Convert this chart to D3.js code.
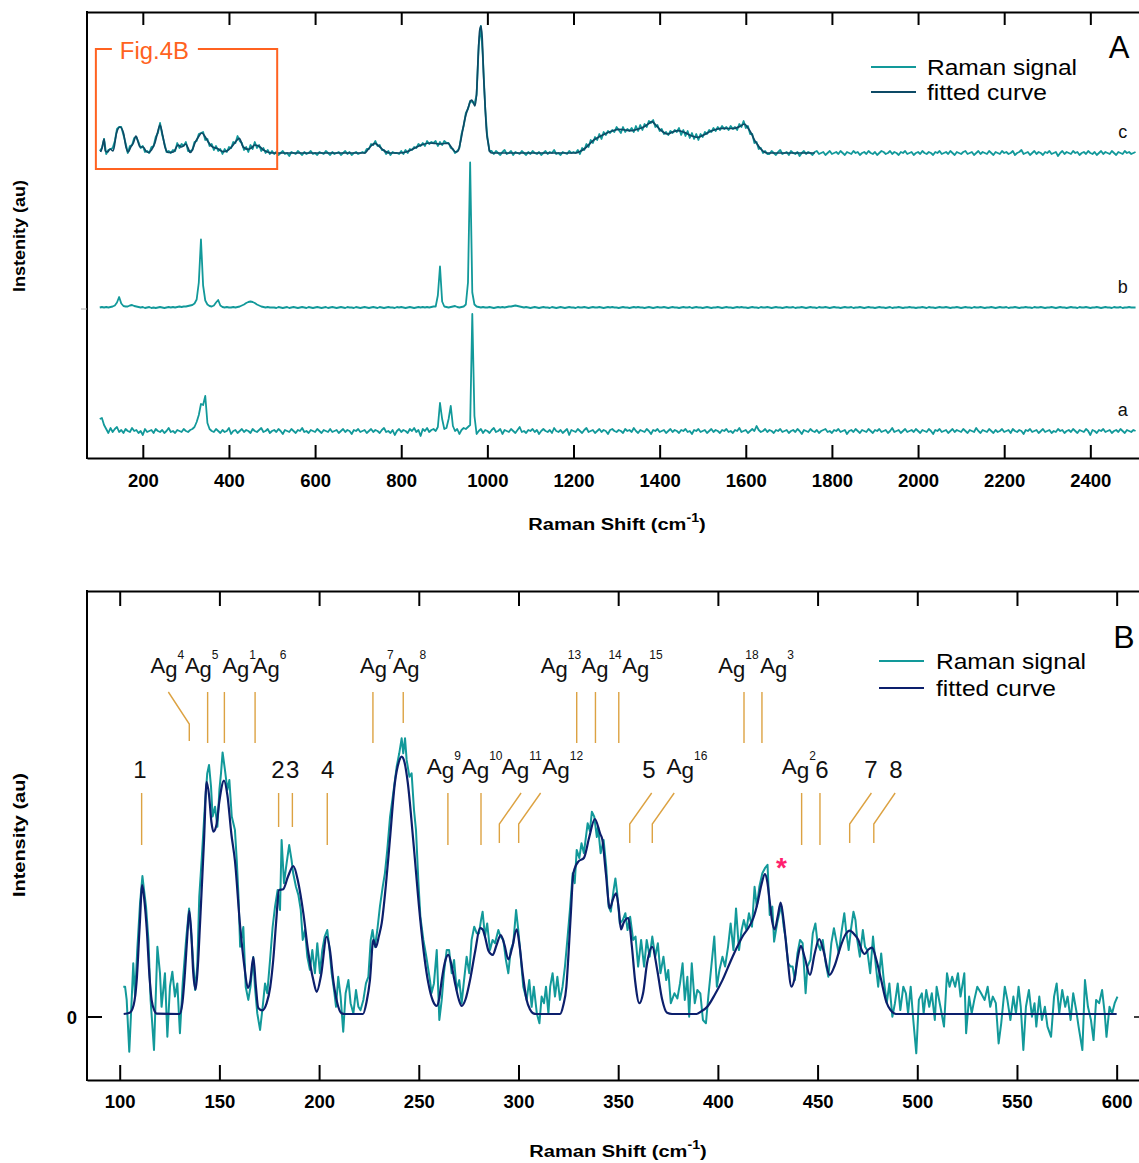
<!DOCTYPE html>
<html><head><meta charset="utf-8">
<script src="https://cdn.jsdelivr.net/npm/d3@7"></script>
<style>body{margin:0;background:#fff}svg{display:block}</style>
</head><body><svg id="chart" width="1139" height="1163"></svg>
<script>
// ---------------- DATA ----------------
const shiftTicksA = [200,400,600,800,1000,1200,1400,1600,1800,2000,2200,2400];
const shiftTicksB = [100,150,200,250,300,350,400,450,500,550,600];
const gridStep = 5; // spectrometer channel spacing used for panel A traces (cm-1)
const traceLabels = ["a","b","c"];
const traceOffsets = [27, 150.5, 305]; // stacking offsets (intensity units)

// trace a (segments: [start shift, values every gridStep])
const traceA = [
 [100,[12,13,6,2,-2,3,-1,2,4,-1, 1,-2,2,0,-1,3,0,1,-2,0, -4,2,-1,0,1,-2,2,0,-1,1, -2,0,3,-1,0,-2,1,0,-1,2,
  0,-1,1,2,4,9,16,27,26,35, 8,2,0,-1,2,0,-2,1,-1,0, 3,-3,0,1,-2,0,2,-1,1,0, -2,2,0,-1,1,3,-1,0,2,-2,
  0,1,-1,2,0,-3,1,0,-1,2, 0,-2,1,0,3,-1,0,-2,1,0, -1,2,0,-2,1,0,-1,2,-1,0, 1,-2,0,2,-1,1,0,-3,1,0,
  2,-1,0,1,-2,0,2,-1,1,0, -2,1,3,-1,0,-2,1,-4,0,2, -1,1,0,-2,2,0,3,-1,1,-5, 2,0,3,-1,1,2,0,4,28,12,
  2,3,12,25,5,0,2,-3,1,3, 2,4,6,117,15,-3,0,2,-2,1]],
 [1000,[0,-2,1,3,-1,0,2,-3,1,0, -1,2,0,-2,1,4,-1,0,-2,1, 0,2,-1,1,-3,0,2,0,-1,1, -2,3,0,-1,1,-2,0,2,-4,1,
  0,-1,2,0,-2,1,3,-1,0,1, -2,0,2,-1,1,0,-3,1,2,0, -1,1,0,-2,2,0,1,-1,3,0, -2,1,0,-1,2,0,-3,1,0,2,
  -1,0,1,-2,0,2,-1,1,0,-2, 1,0,2,-1,0,-3,1,0,2,-1, 0,1,-2,0,2,-1,1,0,-2,1, 0,2,-1,0,-2,1,0,3,-1,0,
  1,-2,0,2,0,5,1,-1,0,2, -1,1,0,-2,1,0,2,-1,0,1, -2,0,1,-1,2,0,-3,1,0,-1, 2,0,-1,1,-2,0,1,2,-1,0,
  -2,1,0,2,-1,0,1,-3,0,1, -1,2,0,-2,1,0,-1,2,0,-2, 1,0,2,-1,0,1,-2,0,3,-1, 0,1,-2,0,2,-1,0,1,-1,2,
  0,-2,1,0,-1,2,0,-3,1,0, 2,-1,0,1,-2,0,2,-1,1,0, -1,2,0,-2,1,0,-1,3,0,-2, 1,0,-1,2,0,-2,1,-1,0,2,
  -1,0,1,-2,2,0,-1,1,0,-3, 1,0,2,-1,0,1,-2,0,2,-1, 0,1,-2,0,-1,2,0,1,-2,0, 1,-1,2,0,-2,1,0,-1,2,0,
  -4,1,0,-2,1,0,2,-1,0,1, -2,0,1,-1,2,0,-2,1,0,-1, 1,0]]
];
// trace b
const traceB = [
 [100,[0,0.5,0,0.5,0,0.5,1,2,5,10.5, 4,1.5,1,1,2,2.5,1.5,1,0.5,0, 0.5,-0.5,0,0.5,-0.5,0,-0.5,0,0.5,0,
  -0.5,0,0.5,0,0.5,0,0.5,1,0.5,1, 1,1.5,2,2.5,4,8,25,68,22,7, 3,1.5,1,2,5,7.5,2,0.5,0,0.5,
  0,0,0.5,0,0.5,1,2,3,4.5,5.5, 6,5.5,4.5,3,2,1,0.5,0,0.5,0, 0]],
 [505,[0,-0.5,0.5,0,-0.5,0,0.5,-0.5,0,0.5, 0,-0.5,0,0.5,0,-0.5,0.5,0,-0.5,0, 0.5,0,-0.5,0,0.5,-0.5,0,0.5,0,-0.5,
  0,0.5,0,-0.5,0.5,0,0,-0.5,0.5,0, -0.5,0,0.5,0,-0.5,0,0.5,0,-0.5,0.5, 0,-0.5,0,0.5,0,0,-0.5,0.5,0,0.5,
  0,-0.5,0,0.5,0,-0.5,0,0.5,0,0.5, 0,0.5,0,0.5,1]],
 [880,[1,12,41,6,1,0.5,0,0.5,1,1.5, 0.5,0,0.5,1,3,25,145,15,3,1, 0.5,0,0.5,0,0]],
 [1005,[0.5,0,-0.5,0,0.5,0,0.5,0,0.5,1, 1,1.5,2,1.5,1,0.5,0,0.5,0,-0.5, 0,0.5,0,-0.5,0,0.5,0,0,-0.5,0.5,
  0,-0.5,0,0.5,0,-0.5,0,0.5,0,0, -0.5,0.5,0,0,0.5,0,-0.5,0,0.5,0, 0,0.5,0,-0.5,0,0.5,0,0.5,0,0,
  -0.5,0,0.5,0,0,-0.5,0,0.5,0,0.5, 0,0,-0.5,0,0.5,0,-0.5,0,0.5,0, 0,0.5,0,-0.5,0,0.5,0,0,-0.5,0,
  0.5,0,0,0.5,-0.5,0,0.5,0,0,-0.5, 0,0.5,0,-0.5,0,0,0.5,0,-0.5,0, 0.5,0,0,-0.5,0,0.5,0,0.5,0,0,
  -0.5,0,0.5,0,0,-0.5,0.5,0,0,0.5, 0,-0.5,0,0.5,0,0,-0.5,0,0.5,0, 0,0.5,-0.5,0,0,0.5,0,-0.5,0,0.5,
  0,0,-0.5,0.5,0,0,0.5,0,-0.5,0, 0.5,0,0,-0.5,0,0.5,0,0,0.5,-0.5, 0,0,0.5,0,-0.5,0,0.5,0,0,-0.5,
  0,0.5,0,0,-0.5,0,0.5,-0.5,0,0, 0.5,0,-0.5,0,0,0.5,0,0,-0.5,0, 0,0.5,0,-0.5,0.5,0,0,-0.5,0,0.5,
  0,0,0.5,0,-0.5,0,0,0.5,0,-0.5, 0,0.5,0,0,-0.5,0.5,0,0,0.5,0, -0.5,0,0,0.5,0,-0.5,0,0.5,0,0,
  0.5,-0.5,0,0,0.5,0,-0.5,0,0,0.5, 0,0,-0.5,0.5,0,0,0.5,0,-0.5,0, 0,0.5,0,-0.5,0,0.5,0,0,-0.5,0,
  0.5,0,0,-0.5,0.5,0,0,0.5,0,-0.5, 0,0,0.5,0,-0.5,0,0.5,0,0,-0.5, 0.5,0,0,0.5,-0.5,0,0,0.5,0,0, 0]]
];
// trace c (Raman signal)
const traceC = [
 [100,[2,5,14,-1,3,4,5,12,24,26, 26,18,10,0,7,8,15,16,11,5, 7,1,2,0,6,7,16,20,30,18, 10,1,2,0,3,2,10,5,9,7,
  11,2,2,3,11,12,19,20,21,13, 14,7,9,3,7,2,4,-1,4,1, 6,5,11,10,17,12,10,3,6,1, 8,4,11,5,8,2,5,0,3,-1, 2]],
 [505,[-1,1,-2,0,2,-1,0,-3,1,0, -1,2,0,-2,1,-1,0,2,-1,0, -2,1,0,-1,2,0,-2,1,-1,0, 1,-2,0,2,-1,1,-2,0,1,-1, 0,1,0]],
 [720,[4,4,9,8,12,7,8,3,3,-1, 2,-2,1,0,0,-1,2,-1,3,0, 4,3,6,5,9,7,10,7,12,9, 11,10,12,7,11,8,12,10,10,5,
  4,0,2,5,19,27,40,44,52,51, 49,58,108,127,92,44,16,2,2]],
 [1015,[-1,2,0,-2,1,3,-1,0,2,-2, 1,0,-1,2,0,-2,1,-1,2,0, -1,1,-2,0,2,-1,1,0,3,-1, 0,-2,1,0,-1,2,0,1,0]],
 [1210,[3,-1,5,3,9,6,13,10,16,13, 19,14,21,18,22,20,23,21,26,23, 20,26,21,24,22,25,21,27,22,28, 23,29,26,32,30,33,26,28,22,24,
  19,21,18,22,20,23,21,25,18,23, 17,22,15,20,14,19,13,19,16,21, 19,23,21,25,22,26,23,27,24,26, 23,27,24,26,23,29,26,32,25,27,
  19,19,10,11,4,5,0,2,-1]],
 [1655,[-1,2,0,-2,1,3,-1,0,1,-2, 2,0,-1,1,-3,0,2,-1,1,0, -2,1,2,-1,0,1,-2,0,2,-1, 0,1,-1,2,0,-2,1,0,-1,2,
  0,1,-2,0,1,-1,2,0,-1,1, -2,0,2,1,-1,0,2,-1,1,0, -2,1,0,2,-1,0,1,-2,0,1, -1,2,0,-1,1,0,-2,1,0,2,
  -1,0,1,-1,2,0,-2,1,0,-1, 1,2,-1,0,1,-2,0,2,-1,1, 0,-1,2,0,-2,1,0,-1,2,0, 1,-1,0,2,-2,0,1,3,-1,0,
  1,-2,0,2,-1,1,0,-2,1,0, 2,-1,0,1,-3,0,2,-1,1,0, -1,2,0,1,-2,0,1,-1,2,0, -1,1,-2,0,2,-1,1,0,-1,2,
  0,-2,1,0,-1,2,0,1,-1,0, 1]]
];
// trace c fitted curve [shift, intensity]
const fitC = [[102,1],[106,6],[110,14],[113,2],[118,1],[124,4],[131,2],[139,20],[147,26],[155,20],[161,6],[166,1],[172,6],[178,10],[184,17],[189,11],[193.5,6],[201,6],[207,2],[213,0.5],[220,3],[228,10],[234,20],[240,28],[246,18],[251.5,6],[259,0.5],[271,1],[282,8],[290,6],[300,9],[305,5],[310,0.5],[315,3],[321,10],[329,16],[337,20],[345,16],[352,11],[362,6],[372,4.7],[387,1.3],[397,2.5],[406,6],[415,11],[424,14.7],[433,6],[445,3.7],[452,5],[460,8],[466,7.5],[472,6],[480,3],[488,1.3],[500,0],[715,0],[722,3],[730,7],[739,9.7],[748,7],[758,3],[773,0],[795,0],[813,1.3],[825,3.5],[836,6],[850,8.5],[867,10],[880,9.5],[890,9],[900,9.5],[909,9.7],[916,6],[921,3],[927,1],[932,2],[938,12],[944,26],[950,38],[956,46],[961,52],[964,53],[968,50],[971,47],[975,60],[979,100],[982,122],[985,127],[988,115],[991,80],[994.5,50],[998,22],[1002,9.7],[1005,2],[1010,0],[1205,0],[1215,1.5],[1227,4.7],[1247,13],[1261,16.5],[1276,19.7],[1290,22],[1305,23.7],[1320,23],[1335,22.3],[1350,24],[1364,26.3],[1375,29.5],[1382,31.3],[1390,28.5],[1398,24.7],[1408,21],[1418,19],[1430,21],[1442,22.3],[1452,21.5],[1462,19.7],[1475,17],[1489,15.7],[1502,18],[1516,21.3],[1530,23.5],[1545,24.7],[1560,24.5],[1574,24.7],[1586,26.5],[1597,29],[1605,25],[1613,19.7],[1620,13],[1628,8],[1635,4],[1642,1.3],[1650,0],[1760,0]];
const fig4bRange = [91, 512];     // shift range covered by Fig.4B box
const fig4bLevels = [289, 409];   // intensity range of box

// Panel B: Raman signal [shift, intensity]
const signalB = [[101.8,10.1],[102.7,10.1],[103.5,5.7],[104.8,-11.6],[106,5.7],[106.8,17.9],[107.7,6.8],[108.8,22.3],[110.2,37.9],[111.4,47],[112.2,42.3],[113.2,36.8],[114.4,25.7],[115.5,5.7],[117.2,-11],[118.9,23.4],[120.2,14.6],[121,3.4],[122.7,14.6],[123.9,-6.6],[125.2,10.1],[126.4,15.1],[127.7,6.8],[128.9,11.2],[130.2,-5.4],[131.6,11.2],[133.3,25.7],[134.8,36.2],[136.1,25.7],[137.8,9],[138.9,16.8],[139.9,40.1],[141.1,52.3],[142.8,71.2],[143.9,81.2],[144.8,84],[145.8,76.8],[146.6,66.8],[147.8,70.1],[149,63.4],[150,75.7],[150.8,81.2],[151.6,88.2],[152.8,82.3],[154,75.7],[155,79],[156.2,66.8],[157.8,62.3],[158.7,52.3],[159.6,40],[160.4,23.4],[162,30],[163.2,10],[164.5,5.7],[165.6,10.1],[167,20],[167.8,10.1],[169,1.2],[170.4,-4.3],[171.7,3.4],[172.9,11.2],[174,7.9],[175.4,19],[176.7,30],[177.9,36.8],[179.2,42.3],[180.4,35.7],[181.2,59],[182.4,44.6],[183.7,51.2],[185,57.3],[186.2,52.3],[187,47.9],[188.4,43.4],[189.6,40.7],[190.8,35.7],[191.8,25.7],[192.9,29],[194.1,20.1],[195.4,15.7],[196.6,22.3],[197.9,14.6],[199.1,24.6],[200.4,14.6],[201.6,22.3],[202.8,26.8],[204.1,29],[205.1,23.4],[206.3,14.6],[207.5,9],[208.5,3.4],[209.6,13.4],[210.8,6.8],[212.1,-4.9],[213.3,7.9],[214.7,12.3],[215.8,4.6],[217.2,1.2],[218.5,9],[219.7,3.4],[220.8,2.3],[222.2,5.7],[223.5,11.2],[224.7,13.4],[225.9,25.7],[226.8,29],[228,23.4],[229.2,29],[230.5,36.8],[231.9,43.4],[233,47.9],[234.2,55.7],[235.6,66.8],[237.2,74.6],[238.9,83.4],[240.2,87.9],[241.4,92.9],[242.2,87.9],[243.1,92.9],[243.9,85.7],[245.3,80.1],[246.4,81.2],[247.6,69],[248.6,62.3],[249.8,45],[250.8,33.4],[252.3,25.7],[253.8,20],[255.6,12.3],[256.4,8],[257.6,11.2],[259,22.3],[260.3,-1],[261.5,5.7],[262.6,14.6],[264,22.3],[265.2,22.3],[266.5,14.6],[267.7,19],[269,9],[270.3,12.3],[271.5,4.6],[272.7,12.3],[274,20.1],[275.3,14.6],[276.5,25.7],[277.8,30.1],[279.1,27.9],[280.2,27.9],[281.2,32.3],[282,35.1],[283.2,26.8],[284.3,31.2],[285.7,22.3],[287,25.7],[288.2,24.6],[289.9,29],[291,26.8],[292.4,25.7],[293.7,19],[294.9,14.6],[296.1,22.3],[297.4,24.6],[298.8,35.7],[299.9,29],[301.1,20.1],[302.4,10.1],[304.1,5.7],[305.4,12.3],[306.6,3.4],[307.7,10.1],[309.2,1.2],[310.5,-2.1],[311.6,6.8],[312.8,4.6],[313.8,10.1],[315,1.2],[315.9,10.1],[317.1,14.6],[318.3,6.8],[319.5,13.4],[320.8,5.7],[322.1,10.1],[323.3,16.8],[324.5,25.7],[325.8,35.7],[327.2,47.9],[328.2,44.6],[329.2,55.7],[330.5,53],[331.6,57.9],[332.8,54.6],[334.7,64.6],[335.8,62],[336.8,68.4],[338,66.8],[339.3,60],[339.9,63.4],[341.2,54.6],[342.7,59],[344,50],[345.2,36.8],[346.3,35.1],[347.7,42.3],[348.6,46.2],[349.5,41.2],[350.8,31.2],[352.3,32.3],[353.6,34.6],[354.7,29],[356,33.4],[357.5,25.7],[358.7,26.8],[360,16.8],[361.5,25.7],[363,16.8],[364.3,25.7],[365.8,20.1],[367.1,26.8],[368.6,20.1],[369.9,24.6],[371.2,14.6],[372.7,20.1],[374.1,12.3],[375.1,15.7],[376.4,4.6],[378.2,7.9],[379.7,6.2],[381,11.2],[382.3,17.9],[383.4,5.7],[384.7,13.4],[385.6,0.1],[386.9,17.9],[388.4,4.6],[389.7,9],[391.2,7.9],[392.5,-1],[394,-2.1],[395.2,6.8],[396.7,16.8],[398.2,26.8],[399.5,10.1],[400.8,15.7],[402.3,20.1],[403.6,16.8],[405.1,23.4],[406.4,31.2],[407.8,22.3],[409.1,36.2],[410.6,22.3],[411.9,29],[413,32.3],[414.3,29],[415.6,34.6],[417.1,30.1],[418.4,43.4],[419.5,36.8],[420.8,43.4],[422.3,47.9],[423.6,49.6],[424.9,50.7],[426,34],[427.3,36.8],[428.2,25.1],[429.7,31.2],[431,35.1],[431.9,36.8],[433,30.1],[434.1,25.7],[435.2,17.9],[436.5,16.8],[437.5,16.8],[438.6,12.3],[439.9,21.2],[441.2,25.7],[442.5,24.6],[444,7.9],[444.9,16.8],[446.4,19],[447.6,27.9],[448.9,31.2],[450,24.6],[451.4,22.3],[452.6,25.7],[454.1,17.9],[455.4,13.4],[456.9,24.6],[458.2,29.6],[459.3,25.7],[460.6,21.2],[461.9,27.9],[463.4,34.6],[464.3,29],[465.6,22.3],[466.7,29],[468,35.1],[469,32.3],[469.9,25.7],[471.2,20.1],[472.7,29],[473.8,23.4],[474.9,22.3],[476.4,14.6],[477.8,26.8],[479.1,17.9],[480.4,10.1],[481.9,21.2],[483.2,12.3],[484.7,4.6],[486,11.2],[487.5,0.1],[488.8,4.6],[490.2,11.2],[491.5,2.3],[493,10.1],[494.3,7.9],[495.4,1.2],[496.7,10.1],[498,-1],[499.5,-12.1],[500.8,5.7],[502.3,7.9],[503.2,1.2],[504.5,9],[506,3.4],[507.3,7.9],[508.8,-1],[509.7,10.1],[511.6,3.4],[513.4,-3.2],[514.9,14.6],[516.2,10.1],[517.5,13.4],[519,10.1],[520.4,14.6],[521.7,6.8],[523.6,14.6],[524.5,-5.4],[526,6.8],[527.3,1.2],[528.6,5.7],[530.1,10.1],[532,7.9],[533.8,5.7],[535.3,10.1],[536.6,3.4],[537.9,6.8],[539.4,4.6],[540.8,-8.8],[542.1,-2.1],[543.9,10.1],[545.2,5.7],[546.7,-1],[548.2,6.8],[549.5,1.2],[550.8,10.1],[551.9,3.4],[553.2,-11],[554.5,3.4],[556,9],[557.5,0.1],[558.8,4.6],[559.7,-3.2],[561.2,6.8],[562.5,-1],[564,3.4],[565.3,-3.2],[567.1,-6.6],[568.6,6.8],[569.9,11.2],[571.2,1.2],[572.7,9],[574.2,3.4],[575.4,6.8],[576.9,-1],[578.2,7.9],[579.7,2.3],[580.9,-3.2],[582.8,-11],[584.1,12.3],[585.6,3.4],[587.1,-1],[588.4,-7.7],[589.7,5.7],[591.2,4.6],[592.7,9],[594,1.2],[594.9,-6.6],[596.4,3.4],[597.7,1.2],[599,4.6],[600.4,6.8]];
// Panel B fitted curve [shift, intensity]
const fitB = [[102,1],[105,1.4],[107,4],[108.5,12],[110,30],[111.3,44],[112.5,38],[113.5,30],[115,13],[116,5.7],[117.5,2],[118.5,1.1],[130,1],[131.5,5],[132.7,14.6],[134,28],[134.9,35.4],[135.9,28],[136.9,14.6],[138.1,9.2],[139.2,17],[140.3,31.3],[141.3,45],[142.3,59],[143.6,78.4],[144.8,74],[146,65],[147,61.8],[148.5,64],[150,72],[152.3,78.8],[154,74],[156,61],[157.8,52],[160.3,31],[162.5,17],[164.3,9.7],[165.5,12],[167,20],[168.2,11],[169.5,3],[171.5,2.2],[173.7,4.6],[175.5,10],[177,19],[178.5,32],[179.9,42.3],[182,42.6],[184.5,47],[187.1,50.3],[189.5,45],[192.1,34.6],[194.5,22],[197.1,12.3],[198.8,8.4],[201,14],[203.8,26.8],[205.5,22],[207.1,12.3],[209,5],[211.3,1.2],[213,1],[222,1],[223.8,5],[225.5,12.3],[227.2,25.7],[228.5,23.3],[230,27],[231.4,31.3],[233.5,44],[235.5,59],[238,78],[240,85],[241.4,86.8],[242.8,85],[244.5,78],[247.2,59],[250.6,33.4],[252.8,20],[254.8,11.2],[257,5.5],[259,3.7],[260.2,6],[261.5,12.3],[263,18],[264.8,20.7],[266.5,17],[268.2,11.2],[270,6],[271.5,3.7],[273.5,6],[275.7,12.3],[278.3,22],[280.7,29.6],[282,29.2],[283.2,26.8],[285,22],[287.1,20.7],[289,24],[291.1,27.3],[293,24],[294.9,19.2],[296.8,23],[299.1,29.2],[300.5,24],[302.2,14],[304.1,5.7],[305.8,2.5],[307.4,1.2],[309,1],[320.8,1],[322.5,4],[324,10],[325,20],[326.3,35],[327.5,47.9],[330,51.8],[332.8,53],[335.5,60],[338.3,66],[341,61],[342.1,59],[343.8,48],[345.8,36.2],[347.5,39.5],[349,41.2],[350.3,36],[351.4,29.2],[352.8,31.5],[355.1,33],[356.8,24],[358.5,12],[360.6,4.6],[362.5,8],[364.5,18],[367.1,23.4],[369.5,16],[372,6],[374.5,1.4],[377,1],[389.3,1],[391.5,1.8],[394.9,3.6],[398.5,7.5],[402.3,12.3],[406,18],[409.7,23.4],[412.5,27],[415.2,29.6],[417.8,33],[419.9,38],[421.8,44],[423.6,47.6],[424.8,45],[425.9,39.1],[427.2,32],[428.5,29.2],[430,33.5],[431.5,38.1],[433,32],[434.7,21.2],[436.9,10.1],[438.5,13],[440,19.5],[441.6,23.7],[443.5,20],[446.2,14],[448.5,21],[450.8,26],[453,22],[456,14],[458.5,17],[461.5,23.4],[464,27.5],[466.2,28.8],[468.5,27.5],[470.5,25.6],[472,22.5],[473.6,21],[475.5,22.5],[477.3,23.1],[479.5,19],[481.9,12.3],[484.5,5],[486.6,2.3],[488.5,1.2],[490,1],[600,1]];
// Mode assignments: superscript / number, band shift, label anchor shift, leader start shift
const modesTop = [
 {sup:"4", at:115.5, band:134.9, from:124.4},
 {sup:"5", at:132.7, band:144.1},
 {sup:"1", at:151.5, band:152.5},
 {sup:"6", at:166.7, band:167.9},
 {sup:"7", at:220.5, band:227.0},
 {sup:"8", at:236.9, band:242.2, short:true},
 {sup:"13", at:311.2, band:329.2},
 {sup:"14", at:331.6, band:338.6},
 {sup:"15", at:352.1, band:350.3},
 {sup:"18", at:400.2, band:413.1},
 {sup:"3", at:421.3, band:422.1}
];
const modesBottom = [
 {num:"1", at:110.2, band:111.0},
 {num:"2", at:179.4, band:179.7, short:true},
 {num:"3", at:186.7, band:186.6, short:true},
 {num:"4", at:204.3, band:204.1},
 {sup:"9", at:254.0, band:264.6},
 {sup:"10", at:271.5, band:281.2},
 {sup:"11", at:291.6, band:290.4, from:301.3},
 {sup:"12", at:311.9, band:300.1, from:311.1},
 {num:"5", at:365.4, band:355.8, from:366.8},
 {sup:"16", at:374.2, band:367.1, from:378.1},
 {sup:"2", at:432.0, band:442.0},
 {num:"6", at:452.2, band:451.2},
 {num:"7", at:476.8, band:466.1, from:477.0},
 {num:"8", at:489.3, band:478.2, from:488.9}
];
const starMark = [431.9, 52];

// ---------------- DRAW ----------------
const FONT = "'Liberation Sans', Arial, Helvetica, sans-serif";
const teal = "#12999a", fitAColor = "#0d4a66", fitBColor = "#0c1f6c", orange = "#ff6220", gold = "#d8982e";
const svg = d3.select("#chart").style("font-family", FONT);

function expand(segs){ const out=[]; segs.forEach(([s,vals])=>vals.forEach((v,i)=>out.push([s+i*gridStep,v]))); return out; }

// ===== Panel A =====
const xA = d3.scaleLinear().domain([70.4, 2513]).range([87, 1139]);
const yA = d3.scaleLinear().domain([0, 446]).range([458, 12]);
const gA = svg.append("g");
const lineA = d3.line().x(d=>xA(d[0])).y(d=>yA(d[1]));
[traceA, traceB, traceC].forEach((segs,k)=>{
  const pts = expand(segs).map(([s,h])=>[s, traceOffsets[k]+h]);
  gA.append("path").attr("d", lineA(pts)).attr("fill","none").attr("stroke",teal)
    .attr("stroke-width",1.8).attr("stroke-linejoin","round");
});
gA.append("path").attr("d", lineA.curve(d3.curveMonotoneX)(fitC.map(([s,h])=>[s,traceOffsets[2]+h])))
  .attr("fill","none").attr("stroke",fitAColor).attr("stroke-width",1.7);
traceLabels.forEach((t,k)=>{
  gA.append("text").attr("x", xA(2475)).attr("y", yA(traceOffsets[k]) - 15)
    .attr("text-anchor","middle").attr("font-size",18).attr("fill","#111").text(t);
});
{
  const bx0 = xA(fig4bRange[0]), bx1 = xA(fig4bRange[1]), by0 = yA(fig4bLevels[1]), by1 = yA(fig4bLevels[0]);
  gA.append("path").attr("d",`M${bx0+16},${by0}H${bx0}V${by1}H${bx1}V${by0}H${bx0+102}`)
    .attr("fill","none").attr("stroke",orange).attr("stroke-width",2);
  gA.append("text").attr("x", bx0+24).attr("y", by0+10).attr("font-size",23).attr("fill",orange)
    .attr("textLength",69).attr("lengthAdjust","spacingAndGlyphs").text("Fig.4B");
}
function styleAxis(g, fs){
  g.select(".domain").attr("stroke","#000").attr("stroke-width",2);
  g.selectAll(".tick line").attr("stroke","#000").attr("stroke-width",2);
  g.selectAll(".tick text").attr("font-family",FONT).attr("font-weight","bold").attr("font-size",fs).attr("fill","#000");
  g.attr("font-family",null).attr("font-size",null);
}
const axAB = svg.append("g").attr("transform","translate(0,458)")
  .call(d3.axisBottom(xA).tickValues(shiftTicksA).tickFormat(d3.format("d")).tickSize(-13).tickSizeOuter(0).tickPadding(16));
styleAxis(axAB, 18.5);
const axAT = svg.append("g").attr("transform","translate(0,12)")
  .call(d3.axisTop(xA).tickValues(shiftTicksA).tickFormat("").tickSize(-13).tickSizeOuter(0));
styleAxis(axAT, 18);
svg.append("line").attr("x1",87).attr("x2",87).attr("y1",11).attr("y2",459).attr("stroke","#000").attr("stroke-width",2);
svg.append("line").attr("x1",81).attr("x2",87).attr("y1",yA(traceOffsets[1])+1.5).attr("y2",yA(traceOffsets[1])+1.5).attr("stroke","#aaa").attr("stroke-width",1);
{
  const t = svg.append("text").attr("transform","translate(617,530) scale(1.18,1)").attr("text-anchor","middle")
    .attr("font-weight","bold").attr("font-size",17);
  t.append("tspan").text("Raman Shift (cm");
  t.append("tspan").attr("font-size",12).attr("dy",-8).text("-1");
  t.append("tspan").attr("dy",8).text(")");
}
svg.append("text").attr("transform","translate(25,236) rotate(-90)").attr("text-anchor","middle")
  .attr("font-weight","bold").attr("font-size",16.5).attr("textLength",112).attr("lengthAdjust","spacingAndGlyphs").text("Instenity (au)");
svg.append("text").attr("x",1119).attr("y",58).attr("text-anchor","middle").attr("font-size",31).text("A");
[["Raman signal",teal,67,75,150],["fitted curve",fitAColor,92,100,120]].forEach(([t,c,ly,ty,len])=>{
  svg.append("line").attr("x1",871).attr("x2",916).attr("y1",ly).attr("y2",ly).attr("stroke",c).attr("stroke-width",2);
  svg.append("text").attr("x",927).attr("y",ty).attr("font-size",22).attr("textLength",len).attr("lengthAdjust","spacingAndGlyphs").text(t);
});

// ===== Panel B =====
const xB = d3.scaleLinear().domain([83.6, 611.2]).range([87, 1139]);
const yB = d3.scaleLinear().domain([-21, 142]).range([1080, 591]);
const gB = svg.append("g");
const annTop = {y0:692, y1:743, yShort:723, yKink:724, base:673};
const annBot = {y0:793, y1:845, yShort:827, yKink:824, base:774};
function leader(d, L){
  const xb = xB(d.band);
  let p;
  if (d.from !== undefined) p = `M${xB(d.from)},${L.y0}L${xb},${L.yKink}V${L.y1-2}`;
  else p = `M${xb},${L.y0}V${d.short ? L.yShort : L.y1}`;
  gB.append("path").attr("d",p).attr("fill","none").attr("stroke",gold).attr("stroke-width",1.4).attr("opacity",0.9);
}
function modeLabel(d, L, fs){
  if (d.sup !== undefined){
    const t = gB.append("text").attr("x", xB(d.at)).attr("y", L.base).attr("font-size",fs).attr("fill","#111");
    t.append("tspan").text("A");
    t.append("tspan").attr("dy",4).text("g");
    t.append("tspan").attr("dy",-18).attr("font-size",12).text(d.sup);
  } else {
    gB.append("text").attr("x", xB(d.at)).attr("y", L.base+4).attr("text-anchor","middle").attr("font-size",24).attr("fill","#111").text(d.num);
  }
}
modesTop.forEach(d=>{ leader(d, annTop); modeLabel(d, annTop, 22); });
modesBottom.forEach(d=>{ leader(d, annBot); modeLabel(d, annBot, 22.5); });

const lineB = d3.line().x(d=>xB(d[0])).y(d=>yB(d[1]));
gB.append("path").attr("d", lineB(signalB)).attr("fill","none").attr("stroke",teal).attr("stroke-width",2).attr("stroke-linejoin","round");
gB.append("path").attr("d", lineB.curve(d3.curveMonotoneX)(fitB)).attr("fill","none").attr("stroke",fitBColor).attr("stroke-width",2.2);
gB.append("text").attr("x", xB(starMark[0])).attr("y", yB(starMark[1])).attr("dy","0.57em").attr("text-anchor","middle")
  .attr("font-size",28).attr("font-weight","bold").attr("fill","#ff1f6e").text("*");

const axBB = svg.append("g").attr("transform","translate(0,1080)")
  .call(d3.axisBottom(xB).tickValues(shiftTicksB).tickFormat(d3.format("d")).tickSize(-15).tickSizeOuter(0).tickPadding(15));
styleAxis(axBB, 18.5);
const axBT = svg.append("g").attr("transform","translate(0,591)")
  .call(d3.axisTop(xB).tickValues(shiftTicksB).tickFormat("").tickSize(-15).tickSizeOuter(0));
styleAxis(axBT, 18);
svg.append("line").attr("x1",87).attr("x2",87).attr("y1",590).attr("y2",1081).attr("stroke","#000").attr("stroke-width",2);
svg.append("line").attr("x1",87).attr("x2",102).attr("y1",yB(0)).attr("y2",yB(0)).attr("stroke","#000").attr("stroke-width",2);
svg.append("line").attr("x1",1134).attr("x2",1139).attr("y1",yB(0)).attr("y2",yB(0)).attr("stroke","#000").attr("stroke-width",1.5);
svg.append("text").attr("x",77).attr("y",yB(0)).attr("dy","0.36em").attr("text-anchor","end").attr("font-weight","bold").attr("font-size",18.5).text("0");
{
  const t = svg.append("text").attr("transform","translate(618,1157) scale(1.18,1)").attr("text-anchor","middle")
    .attr("font-weight","bold").attr("font-size",17);
  t.append("tspan").text("Raman Shift (cm");
  t.append("tspan").attr("font-size",12).attr("dy",-8).text("-1");
  t.append("tspan").attr("dy",8).text(")");
}
svg.append("text").attr("transform","translate(25,835) rotate(-90)").attr("text-anchor","middle")
  .attr("font-weight","bold").attr("font-size",16.5).attr("textLength",124).attr("lengthAdjust","spacingAndGlyphs").text("Intensity (au)");
svg.append("text").attr("x",1124).attr("y",648).attr("text-anchor","middle").attr("font-size",32).text("B");
[["Raman signal",teal,661,669,150],["fitted curve",fitBColor,688,696,120]].forEach(([t,c,ly,ty,len])=>{
  svg.append("line").attr("x1",879).attr("x2",924).attr("y1",ly).attr("y2",ly).attr("stroke",c).attr("stroke-width",2);
  svg.append("text").attr("x",936).attr("y",ty).attr("font-size",22).attr("textLength",len).attr("lengthAdjust","spacingAndGlyphs").text(t);
});
</script></body></html>
